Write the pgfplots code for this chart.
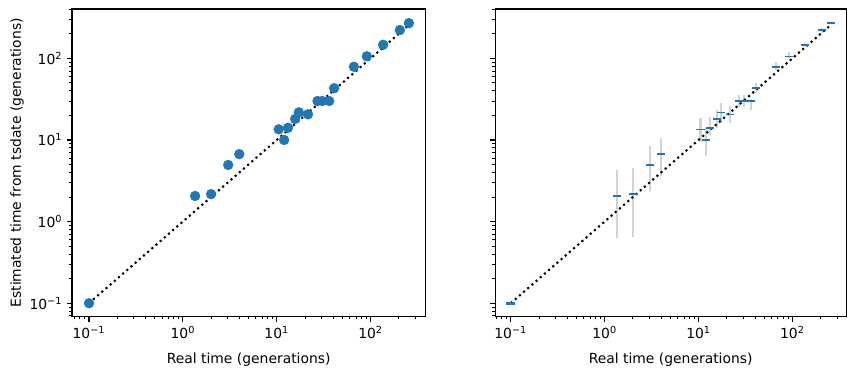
\documentclass[border=0pt]{standalone}
\usepackage{fontspec}
\setmainfont{DejaVu Sans}
\usepackage{pgfplots}
\usepackage{pgfplotstable}
\pgfplotsset{compat=1.18}
\definecolor{C0}{HTML}{1F77B4}
\definecolor{errgray}{HTML}{D3D3D3}

\pgfplotstableread{
x y
0.1 0.1
1.35 2.06
2.0 2.17
3.04 4.94
3.99 6.7
10.5 13.5
12.0 10.0
13.2 14.1
15.7 18.1
17.2 21.8
21.5 20.6
27.2 30
30.5 30
36.2 30
40.9 43
66.4 78.9
91.2 106
136 146.6
205 222
256 270
}\pointdata

\begin{document}
\begin{tikzpicture}
\useasboundingbox (-51.84pt,-41.98pt) rectangle (565.2pt,228.0pt);
\begin{axis}[
  xmode=log, ymode=log,
  scale only axis,
  at={(0pt,0pt)}, anchor=south west,
  width=254.4pt, height=221.5pt,
  xmin=0.0659, xmax=383,
  ymin=0.0684, ymax=402,
  axis line style={line width=0.8pt},
  tick align=outside,
  xtick pos=bottom, ytick pos=left,
  major tick length=3.5pt, minor tick length=2pt,
  major tick style={line width=0.8pt, black},
  minor tick style={line width=0.6pt, black},
  xtick={0.1,1,10,100},
  xticklabels={10\textsuperscript{−1},10\textsuperscript{0},10\textsuperscript{1},10\textsuperscript{2}},
  minor xtick={0.07,0.08,0.09,0.2,0.3,0.4,0.5,0.6,0.7,0.8,0.9,2,3,4,5,6,7,8,9,20,30,40,50,60,70,80,90,200,300},
  ytick={0.1,1,10,100},
  yticklabels={10\textsuperscript{−1},10\textsuperscript{0},10\textsuperscript{1},10\textsuperscript{2}},
  minor ytick={0.07,0.08,0.09,0.2,0.3,0.4,0.5,0.6,0.7,0.8,0.9,2,3,4,5,6,7,8,9,20,30,40,50,60,70,80,90,200,300,400},
  tick label style={font=\fontsize{10}{12}\selectfont},
  xlabel={Real time (generations)},
  ylabel={Estimated time from tsdate (generations)},
  xlabel style={at={(axis description cs:0.5,-0.141)}, anchor=center, font=\fontsize{10}{12}\selectfont},
  ylabel style={at={(axis description cs:-0.1555,0.5)}, rotate=0, anchor=center, font=\fontsize{10}{12}\selectfont},
]
\addplot[only marks, mark=*, mark size=3.5pt, color=C0, mark options={fill=C0, draw=C0}] table {\pointdata};
\addplot[black, line width=1.5pt, dash pattern=on 1.5pt off 2.475pt] coordinates {(0.1,0.1) (256,256)};
\end{axis}

\begin{axis}[
  xmode=log, ymode=log,
  scale only axis,
  at={(304.6pt,0pt)}, anchor=south west,
  width=252.9pt, height=221.5pt,
  xmin=0.0681, xmax=375,
  ymin=0.0684, ymax=402,
  axis line style={line width=0.8pt},
  tick align=outside,
  xtick pos=bottom, ytick pos=left,
  major tick length=3.5pt, minor tick length=2pt,
  major tick style={line width=0.8pt, black},
  minor tick style={line width=0.6pt, black},
  xtick={0.1,1,10,100},
  xticklabels={10\textsuperscript{−1},10\textsuperscript{0},10\textsuperscript{1},10\textsuperscript{2}},
  minor xtick={0.07,0.08,0.09,0.2,0.3,0.4,0.5,0.6,0.7,0.8,0.9,2,3,4,5,6,7,8,9,20,30,40,50,60,70,80,90,200,300},
  ytick={0.1,1,10,100},
  yticklabels={},
  minor ytick={0.07,0.08,0.09,0.2,0.3,0.4,0.5,0.6,0.7,0.8,0.9,2,3,4,5,6,7,8,9,20,30,40,50,60,70,80,90,200,300,400},
  tick label style={font=\fontsize{10}{12}\selectfont},
  xlabel={Real time (generations)},
  xlabel style={at={(axis description cs:0.5,-0.141)}, anchor=center, font=\fontsize{10}{12}\selectfont},
]
\addplot[errgray, line width=1.5pt, unbounded coords=jump] coordinates {
(1.35,0.625) (1.35,4.29) (1.35,nan)
(2.0,0.653) (2.0,4.57) (2.0,nan)
(3.04,2.39) (3.04,8.43) (3.04,nan)
(3.99,3.65) (3.99,10.6) (3.99,nan)
(10.5,9.5) (10.5,18.7) (10.5,nan)
(12.0,6.37) (12.0,13.9) (12.0,nan)
(13.2,11.5) (13.2,18.9) (13.2,nan)
(15.7,13.9) (15.7,23.3) (15.7,nan)
(17.2,16.0) (17.2,28.1) (17.2,nan)
(21.5,16.0) (21.5,26.1) (21.5,nan)
(27.2,25.5) (27.2,35.6) (27.2,nan)
(30.5,25.5) (30.5,35.6) (30.5,nan)
(36.2,23.3) (36.2,31.5) (36.2,nan)
(40.9,37.2) (40.9,49.4) (40.9,nan)
(66.4,71.9) (66.4,90.8) (66.4,nan)
(91.2,102) (91.2,118) (91.2,nan)
(136,139) (136,155) (136,nan)
(205,206) (205,233) (205,nan)
(256,261) (256,281)
};
\addplot[only marks, mark=-, mark size=2.9pt, color=C0, mark options={line width=1.1pt}] table {\pointdata};
\addplot[only marks, mark=-, mark size=3.2pt, color=C0, mark options={line width=2.4pt}] coordinates {(0.1,0.1)};
\addplot[black, line width=1.5pt, dash pattern=on 1.5pt off 2.475pt] coordinates {(0.1,0.1) (256,256)};
\end{axis}
\end{tikzpicture}
\end{document}
